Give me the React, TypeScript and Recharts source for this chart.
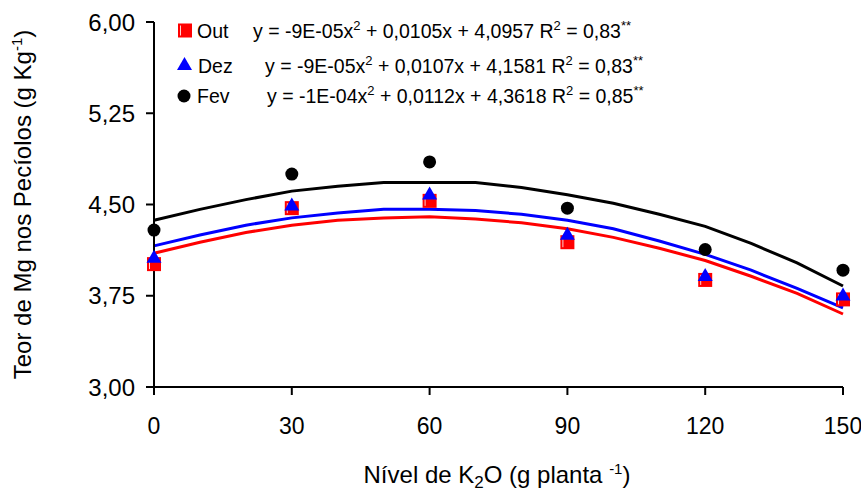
import React from 'react';
import { ComposedChart, Line, Scatter, XAxis, YAxis } from 'recharts';

const FONT = '"Liberation Sans", Arial, sans-serif';

// K2O levels (g planta -1) and observed Mg values
const levels = [0, 30, 60, 90, 120, 150];
const outObs = [4.01, 4.47, 4.53, 4.19, 3.88, 3.72];
const dezObs = [4.07, 4.5, 4.59, 4.26, 3.92, 3.76];
const fevObs = [4.29, 4.75, 4.85, 4.47, 4.13, 3.96];

// fitted curves
const curveX = [0, 10, 20, 30, 40, 50, 60, 70, 80, 90, 100, 110, 120, 130, 140, 150];
const outFit = [4.1, 4.19, 4.27, 4.33, 4.37, 4.39, 4.4, 4.38, 4.35, 4.3, 4.23, 4.14, 4.04, 3.91, 3.77, 3.6];
const dezFit = [4.16, 4.25, 4.33, 4.39, 4.43, 4.46, 4.46, 4.45, 4.42, 4.37, 4.3, 4.2, 4.09, 3.96, 3.81, 3.65];
const fevFit = [4.37, 4.46, 4.54, 4.61, 4.65, 4.68, 4.68, 4.68, 4.64, 4.58, 4.51, 4.42, 4.32, 4.18, 4.02, 3.83];

const xTicks = [0, 30, 60, 90, 120, 150];
const yTicks = [3, 3.75, 4.5, 5.25, 6];

const names = ['Out', 'Dez', 'Fev'];
const eqA = ['-9E-05', '-9E-05', '-1E-04'];
const eqB = ['0,0105', '0,0107', '0,0112'];
const eqC = ['4,0957', '4,1581', '4,3618'];
const eqR2 = ['0,83', '0,83', '0,85'];

const RED = '#ff0000';
const BLUE = '#0000ff';
const BLACK = '#000000';

const toPoints = (xs: number[], ys: number[]) => xs.map((x, i) => ({ x, y: ys[i] }));

const Square = ({ cx, cy }: any) => (
  <g>
    <rect x={cx - 7} y={cy - 7} width={14} height={14} fill={RED} />
    <line x1={cx - 4.5} y1={cy - 5} x2={cx - 4.5} y2={cy + 5} stroke="#ffd0d0" strokeWidth={1} />
  </g>
);

const Triangle = ({ cx, cy }: any) => (
  <polygon points={`${cx},${cy - 7} ${cx - 7.5},${cy + 6} ${cx + 7.5},${cy + 6}`} fill={BLUE} />
);

const Dot = ({ cx, cy }: any) => <circle cx={cx} cy={cy} r={6.5} fill={BLACK} />;

const YTitle = () => (
  <text
    x={30.5}
    y={204.5}
    transform="rotate(-90 30.5 204.5)"
    textAnchor="middle"
    fontFamily={FONT}
    fontSize={24}
    fill="#000"
  >
    Teor de Mg nos Pecíolos (g Kg
    <tspan fontSize={15} dy={-9}>-1</tspan>
    <tspan dy={9}>)</tspan>
  </text>
);

const XTitle = () => (
  <text x={497} y={483} textAnchor="middle" fontFamily={FONT} fontSize={24} fill="#000">
    Nível de K
    <tspan fontSize={17} dy={5}>2</tspan>
    <tspan dy={-5}>O (g planta </tspan>
    <tspan fontSize={15} dy={-9}>-1</tspan>
    <tspan dy={9}>)</tspan>
  </text>
);

const Equation = ({ i, x, y }: { i: number; x: number; y: number }) => (
  <text x={x} y={y} fontFamily={FONT} fontSize={19.5} fill="#000">
    {`y = ${eqA[i]}x`}
    <tspan fontSize={13} dy={-8}>2</tspan>
    <tspan dy={8}>{` + ${eqB[i]}x + ${eqC[i]} R`}</tspan>
    <tspan fontSize={13} dy={-8}>2</tspan>
    <tspan dy={8}>{` = ${eqR2[i]}`}</tspan>
    <tspan fontSize={13} dy={-8}>**</tspan>
  </text>
);

const LegendBox = () => (
  <svg
    width={680}
    height={115}
    style={{ position: 'absolute', left: 0, top: 0, pointerEvents: 'none' }}
  >
    <Square cx={185} cy={30.5} />
    <text x={197} y={38} fontFamily={FONT} fontSize={19.5} fill="#000">{names[0]}</text>
    <Equation i={0} x={253} y={38} />

    <Triangle cx={184.5} cy={64} />
    <text x={198} y={73} fontFamily={FONT} fontSize={19.5} fill="#000">{names[1]}</text>
    <Equation i={1} x={265} y={73} />

    <Dot cx={184} cy={96} />
    <text x={197} y={103} fontFamily={FONT} fontSize={19.5} fill="#000">{names[2]}</text>
    <Equation i={2} x={267} y={103} />
  </svg>
);

const fmt = (v: number) => v.toFixed(2).replace('.', ',');

export default function App() {
  const axisStyle = { stroke: '#000', strokeWidth: 2 };
  const yTickStyle = { fill: '#000', fontSize: 24, fontFamily: FONT };
  const xTickStyle = { fill: '#000', fontSize: 23, fontFamily: FONT };
  return (
    <div style={{ position: 'absolute', left: 0, top: 0, width: 861, height: 492, background: '#fff' }}>
      <ComposedChart width={861} height={492} margin={{ top: 22, right: 18, bottom: 0, left: 0 }}>
        <XAxis
          type="number"
          dataKey="x"
          domain={[0, 150]}
          ticks={xTicks}
          height={105}
          tickSize={8}
          tickMargin={23}
          axisLine={axisStyle}
          tickLine={axisStyle}
          tick={xTickStyle}
          label={<XTitle />}
        />
        <YAxis
          type="number"
          dataKey="y"
          domain={[3, 6]}
          ticks={yTicks}
          width={154}
          tickSize={8}
          tickMargin={11}
          tickFormatter={fmt}
          axisLine={axisStyle}
          tickLine={axisStyle}
          tick={yTickStyle}
          label={<YTitle />}
        />
        <Line data={toPoints(curveX, outFit)} dataKey="y" type="linear" stroke={RED} strokeWidth={3} dot={false} activeDot={false} isAnimationActive={false} />
        <Line data={toPoints(curveX, dezFit)} dataKey="y" type="linear" stroke={BLUE} strokeWidth={3} dot={false} activeDot={false} isAnimationActive={false} />
        <Line data={toPoints(curveX, fevFit)} dataKey="y" type="linear" stroke={BLACK} strokeWidth={3} dot={false} activeDot={false} isAnimationActive={false} />
        <Scatter data={toPoints(levels, outObs)} dataKey="y" shape={(p: any) => <Square cx={p.cx} cy={p.cy} />} isAnimationActive={false} />
        <Scatter data={toPoints(levels, dezObs)} dataKey="y" shape={(p: any) => <Triangle cx={p.cx} cy={p.cy} />} isAnimationActive={false} />
        <Scatter data={toPoints(levels, fevObs)} dataKey="y" shape={(p: any) => <Dot cx={p.cx} cy={p.cy} />} isAnimationActive={false} />
      </ComposedChart>
      <LegendBox />
    </div>
  );
}
